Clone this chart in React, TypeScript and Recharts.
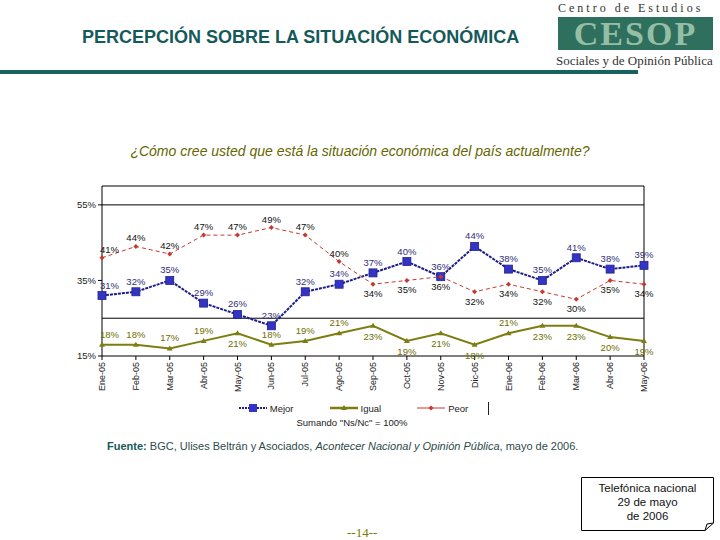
import { LineChart, Line, XAxis, YAxis, ReferenceLine, Legend } from 'recharts';

const meses = ['Ene-05', 'Feb-05', 'Mar-05', 'Abr-05', 'May-05', 'Jun-05', 'Jul-05', 'Ago-05', 'Sep-05', 'Oct-05', 'Nov-05', 'Dic-05', 'Ene-06', 'Feb-06', 'Mar-06', 'Abr-06', 'May-06'];
const mejor = [31, 32, 35, 29, 26, 23, 32, 34, 37, 40, 36, 44, 38, 35, 41, 38, 39];
const igual = [18, 18, 17, 19, 21, 18, 19, 21, 23, 19, 21, 18, 21, 23, 23, 20, 19];
const peor = [41, 44, 42, 47, 47, 49, 47, 40, 34, 35, 36, 32, 34, 32, 30, 35, 34];
const series = ['Mejor', 'Igual', 'Peor'];
const yTicks = [15, 35, 55];

// which "Igual" labels sit under their point (presentation only)
const igualDebajo = [false, false, false, false, true, false, false, false, true, true, true, true, false, true, true, true, true];

const data = meses.map((mes, i) => ({ mes, Mejor: mejor[i], Igual: igual[i], Peor: peor[i] }));

const FONT = 'Arial, "Liberation Sans", sans-serif';
const SERIF = '"Liberation Serif", "DejaVu Serif", serif';

const colMejor = '#1c1c8a';
const colIgual = '#7d7d12';
const colPeor = '#c43a32';

function etiqueta(color: string, debajo: (i: number) => boolean, arriba: number, abajo: number) {
   return (props: any) => {
      const { x, y, value, index } = props;
      const b = debajo(index);
      return (
         <text key={`l-${color}-${index}`} x={index === 0 ? x - 2 : x} y={b ? y + abajo : y - arriba}
            textAnchor={index === 0 ? 'start' : 'middle'} fontSize={9.5} fill={color} fontFamily={FONT}>
            {value}%
         </text>
      );
   };
}

const puntoMejor = (p: any) => (
   <rect key={`m-${p.index}`} x={p.cx - 4} y={p.cy - 4} width={8} height={8} fill="#3434c4" stroke="#22228f" strokeWidth={0.8} />
);
const puntoIgual = (p: any) => (
   <path key={`i-${p.index}`} d={`M${p.cx},${p.cy - 3} L${p.cx + 3},${p.cy + 2} L${p.cx - 3},${p.cy + 2} Z`} fill={colIgual} />
);
const puntoPeor = (p: any) => (
   <path key={`p-${p.index}`} d={`M${p.cx},${p.cy - 2.5} L${p.cx + 2.5},${p.cy} L${p.cx},${p.cy + 2.5} L${p.cx - 2.5},${p.cy} Z`} fill={colPeor} />
);

function TickMes({ x, y, payload }: any) {
   return (
      <g transform={`translate(${x},${y})`}>
         <text transform="rotate(-90)" textAnchor="end" dy={3} fontSize={9} fill="#222" fontFamily={FONT}>
            {payload.value}
         </text>
      </g>
   );
}

function IconoLeyenda({ k }: { k: string }) {
   if (k === 'Mejor') {
      return (
         <svg width={28} height={10}>
            <line x1={0} y1={5} x2={28} y2={5} stroke={colMejor} strokeWidth={2} strokeDasharray="2 1" />
            <rect x={10} y={1} width={8} height={8} fill="#3434c4" />
         </svg>
      );
   }
   if (k === 'Igual') {
      return (
         <svg width={28} height={10}>
            <line x1={0} y1={5} x2={28} y2={5} stroke={colIgual} strokeWidth={2.5} />
            <path d="M14,2 L17,7 L11,7 Z" fill={colIgual} />
         </svg>
      );
   }
   return (
      <svg width={28} height={10}>
         <line x1={0} y1={5} x2={28} y2={5} stroke={colPeor} strokeWidth={1} />
         <path d="M14,2.5 L16.5,5 L14,7.5 L11.5,5 Z" fill={colPeor} />
      </svg>
   );
}

function Leyenda({ payload }: any) {
   const items = [...(payload || [])].sort((a: any, b: any) => series.indexOf(a.dataKey) - series.indexOf(b.dataKey));
   return (
      <div style={{ height: 40, fontFamily: FONT, fontSize: 9.5, color: '#222' }}>
         <div style={{ display: 'flex', justifyContent: 'center', alignItems: 'center', height: 20, paddingLeft: 24 }}>
            {items.map((e: any, i: number) => (
               <div key={e.value} style={{ display: 'flex', alignItems: 'center', marginLeft: i === 0 ? 0 : 36 }}>
                  <IconoLeyenda k={e.dataKey} />
                  <span style={{ marginLeft: 3 }}>{e.value}</span>
               </div>
            ))}
            <div style={{ width: 1, height: 13, background: '#222', marginLeft: 20 }} />
         </div>
         <div style={{ textAlign: 'center', marginTop: -1 }}>Sumando "Ns/Nc" = 100%</div>
      </div>
   );
}

export default function App() {
   return (
      <div style={{ position: 'absolute', left: 0, top: 0, width: 720, height: 540, background: '#fff', fontFamily: FONT, overflow: 'hidden' }}>
         {/* encabezado */}
         <div style={{ position: 'absolute', left: 82, top: 28, fontSize: 18, lineHeight: '18px', fontWeight: 'bold', color: '#15595a' }}>
            PERCEPCIÓN SOBRE LA SITUACIÓN ECONÓMICA
         </div>
         <div style={{ position: 'absolute', left: 558, top: 1, fontFamily: SERIF, fontSize: 12, lineHeight: '14px', letterSpacing: 3, color: '#333' }}>Centro de Estudios</div>
         <div style={{ position: 'absolute', left: 558, top: 17, width: 155, height: 33, background: '#2f6f5d' }}>
            <div style={{ fontFamily: SERIF, fontWeight: 'bold', fontSize: 34, lineHeight: '33px', color: '#94bfa6', letterSpacing: 2, textAlign: 'center' }}>CESOP</div>
         </div>
         <div style={{ position: 'absolute', left: 556, top: 53, fontFamily: SERIF, fontSize: 13, lineHeight: '15px', color: '#333' }}>Sociales y de Opinión Pública</div>
         <div style={{ position: 'absolute', left: 0, top: 70, width: 638, height: 4, background: '#16625e' }} />

         <div style={{ position: 'absolute', left: 0, top: 143, width: 720, textAlign: 'center', fontSize: 14, fontStyle: 'italic', color: '#666600' }}>
            ¿Cómo cree usted que está la situación económica del país actualmente?
         </div>

         {/* gráfica */}
         <div style={{ position: 'absolute', left: 60, top: 176 }}>
            <LineChart width={600} height={262} data={data} margin={{ top: 10, right: 16, bottom: 0, left: 0 }}>
               <XAxis dataKey="mes" interval={0} padding={{ left: 0, right: 0 }} stroke="#000" tickSize={4} tick={<TickMes />} height={42} />
               <YAxis domain={[15, 60]} ticks={yTicks} width={42} stroke="#000" tickSize={4} tickFormatter={(v) => `${v}%`} tick={{ fontSize: 9.5, fill: '#222', fontFamily: FONT }} />
               <ReferenceLine y={25} stroke="#000" />
               <ReferenceLine y={55} stroke="#000" />
               <ReferenceLine y={60} stroke="#000" />
               <ReferenceLine x="May-06" stroke="#000" />
               <Line dataKey="Mejor" stroke={colMejor} strokeWidth={2} strokeDasharray="3 1" dot={puntoMejor} isAnimationActive={false}
                  label={etiqueta('#2e2e78', () => false, 7, 12)} />
               <Line dataKey="Igual" stroke={colIgual} strokeWidth={2} dot={puntoIgual} isAnimationActive={false}
                  label={etiqueta('#6e6e00', (i) => igualDebajo[i], 7, 14)} />
               <Line dataKey="Peor" stroke={colPeor} strokeWidth={1} strokeDasharray="4 3" dot={puntoPeor} isAnimationActive={false}
                  label={etiqueta('#111', (i) => peor[i] <= mejor[i], 5, 13)} />
               <Legend verticalAlign="bottom" content={<Leyenda />} />
            </LineChart>
         </div>

         {/* pie */}
         <div style={{ position: 'absolute', left: 107, top: 440, fontSize: 11, color: '#2c4a4a', whiteSpace: 'nowrap' }}>
            <b style={{ color: '#15595a' }}>Fuente:</b> BGC, Ulises Beltrán y Asociados, <i>Acontecer Nacional y Opinión Pública</i>, mayo de 2006.
         </div>
         <div style={{ position: 'absolute', left: 347, top: 525, fontFamily: SERIF, fontSize: 13, color: '#7a7a00' }}>--14--</div>
         <svg style={{ position: 'absolute', left: 581, top: 477 }} width={134} height={55}>
            <path d="M0.5,0.5 L132.5,0.5 L132.5,46 L124,53.5 L0.5,53.5 Z" fill="#fff" stroke="#000" />
            <path d="M124,53.5 L126,47 L132.5,46" fill="none" stroke="#000" />
         </svg>
         <div style={{ position: 'absolute', left: 581, top: 481, width: 133, textAlign: 'center', fontSize: 11.5, lineHeight: '14px', color: '#111' }}>
            Telefónica nacional<br />29 de mayo<br />de 2006
         </div>
      </div>
   );
}
